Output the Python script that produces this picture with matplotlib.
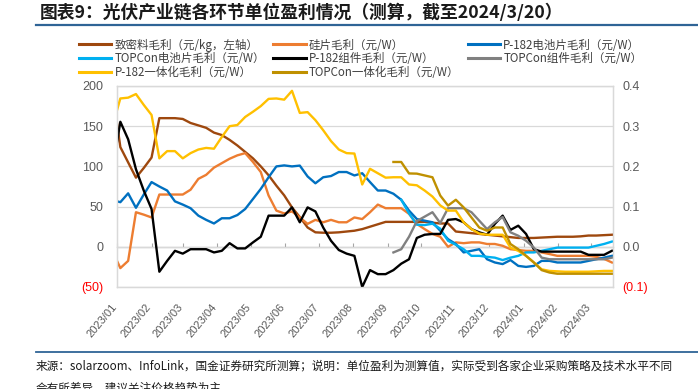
import numpy as np
import pandas as pd
import matplotlib
matplotlib.use("Agg")
import matplotlib.pyplot as plt
import matplotlib.dates as mdates
from matplotlib.lines import Line2D
from matplotlib.transforms import ScaledTranslation

plt.rcParams['font.family'] = ['Noto Sans CJK SC', 'DejaVu Sans']

# ---------------- data (weekly, Wednesdays) ----------------
dates = pd.date_range("2022-12-28", "2024-03-20", freq="7D")  # 65 points

nan = np.nan
# 致密料毛利 (元/kg, left axis)
polysilicon = [194,
    124, 105, 86, 98, 111, 160, 160, 160, 159, 154,
    151, 148, 142, 139, 133, 126, 118, 110, 100, 89,
    76, 64, 49, 37, 24, 18, 17.5, 17.5, 18, 19,
    20, 22, 25, 28, 31, 31, 31, 31, 31, 31,
    30, 29, 29, 19, 18, 17, 16, 15, 14, 13,
    12, 11, 11, 11, 11.5, 12, 12.5, 12.5, 12.5, 13,
    14, 14, 14.5, 15]
# 硅片毛利 (元/W)
wafer = [-0.011,
    -0.053, -0.035, 0.086, 0.08, 0.073, 0.13, 0.13, 0.13, 0.13, 0.142,
    0.169, 0.179, 0.197, 0.208, 0.219, 0.2275, 0.233, 0.211, 0.186, 0.1275,
    0.09, 0.083, 0.088, 0.073, 0.057, 0.067, 0.061, 0.067, 0.061, 0.061,
    0.073, 0.069, 0.086, 0.105, 0.096, 0.096, 0.096, 0.082, 0.057, 0.044,
    0.032, 0.025, 0.0, 0.011, 0.009, 0.011, 0.011, 0.007, 0.007, 0.0025,
    -0.006, -0.008, -0.01, -0.01, -0.014, -0.018, -0.0225, -0.0225, -0.0225, -0.0225,
    -0.0225, -0.025, -0.03, -0.039]
# P-182电池片毛利 (元/W)
cell_p182 = [0.116,
    0.111, 0.133, 0.097, 0.13, 0.161, 0.15, 0.14, 0.113, 0.105, 0.096,
    0.0775, 0.067, 0.058, 0.071, 0.071, 0.079, 0.094, 0.119, 0.144, 0.173,
    0.20, 0.2025, 0.20, 0.202, 0.175, 0.158, 0.173, 0.176, 0.186, 0.186,
    0.1775, 0.183, 0.161, 0.14, 0.14, 0.132, 0.117, 0.09, 0.069, 0.065,
    0.061, 0.04, 0.019, 0.007, -0.014, -0.01, -0.006, -0.031, -0.039, -0.043,
    -0.033, -0.0475, -0.05, -0.0475, -0.035, -0.035, -0.039, -0.039, -0.039, -0.039,
    -0.035, -0.031, -0.027, -0.0225]
# TOPCon电池片毛利 (元/W)
cell_topcon = [nan] * 37 + [
    0.117, 0.083, 0.055, 0.054,
    0.0575, 0.045, 0.015, 0.005, -0.006, -0.0225, -0.0225, -0.025, -0.027, -0.033,
    -0.027, -0.0225, -0.014, -0.014, -0.01, -0.006, -0.002, -0.002, -0.002, -0.002,
    -0.002, 0.0025, 0.007, 0.013]
# P-182组件毛利 (元/W)
module_p182 = [0.194,
    0.311, 0.2675, 0.193, 0.14, 0.094, -0.062, -0.035, -0.01, -0.017, -0.006,
    -0.006, -0.006, -0.014, -0.01, 0.009, -0.004, -0.004, 0.011, 0.025, 0.0775,
    0.0775, 0.0775, 0.098, 0.061, 0.098, 0.088, 0.048, 0.015, -0.008, -0.017,
    -0.0225, -0.1, -0.058, -0.068, -0.068, -0.058, -0.042, -0.031, 0.022, 0.03,
    0.032, 0.032, 0.067, 0.069, 0.061, 0.044, 0.036, 0.03, 0.057, 0.0775,
    0.042, 0.0525, 0.032, -0.006, -0.012, -0.012, -0.012, -0.012, -0.012, -0.012,
    -0.02, -0.02, -0.02, -0.01]
# TOPCon组件毛利 (元/W)
module_topcon = [nan] * 36 + [
    -0.014, -0.006, 0.025, 0.064, 0.075,
    0.086, 0.059, 0.096, 0.096, 0.096, 0.086, 0.065, 0.044, 0.061, 0.074,
    0.036, 0.0275, 0.015, -0.002, -0.027, -0.031, -0.031, -0.031, -0.031, -0.031,
    -0.031, -0.031, -0.031, -0.027]
# P-182一体化毛利 (元/W)
integ_p182 = [0.301,
    0.369, 0.371, 0.38, 0.353, 0.328, 0.22, 0.238, 0.238, 0.22, 0.233,
    0.242, 0.246, 0.244, 0.273, 0.30, 0.303, 0.323, 0.336, 0.35, 0.368,
    0.369, 0.366, 0.388, 0.333, 0.335, 0.315, 0.29, 0.263, 0.242, 0.233,
    0.232, 0.155, 0.194, 0.183, 0.172, 0.173, 0.173, 0.155, 0.153, 0.14,
    0.125, 0.103, 0.09, 0.09, 0.061, 0.044, 0.033, 0.03, 0.03, 0.03,
    -0.002, -0.01, -0.0225, -0.039, -0.056, -0.06, -0.061, -0.062, -0.062, -0.062,
    -0.062, -0.061, -0.06, -0.06]
# TOPCon一体化毛利 (元/W)
integ_topcon = [nan] * 36 + [
    0.211, 0.211, 0.1825, 0.182, 0.1775,
    0.173, 0.1275, 0.1025, 0.117, 0.098, 0.073, 0.048, 0.04, 0.048, 0.048,
    0.007, -0.006, -0.0225, -0.039, -0.058, -0.064, -0.067, -0.067, -0.067, -0.067,
    -0.067, -0.067, -0.067, -0.067]

labels = ["致密料毛利（元/kg，左轴）", "硅片毛利（元/W）", "P-182电池片毛利（元/W）",
          "TOPCon电池片毛利（元/W）", "P-182组件毛利（元/W）", "TOPCon组件毛利（元/W）",
          "P-182一体化毛利（元/W）", "TOPCon一体化毛利（元/W）"]
colors = ["#9E480E", "#ED7D31", "#0070C0", "#00B0F0", "#000000", "#808080",
          "#FFC000", "#BF9000"]

left_ticks = [-50, 0, 50, 100, 150, 200]
left_ticklabels = ["(50)", "0", "50", "100", "150", "200"]
right_ticks = [-0.1, 0.0, 0.1, 0.2, 0.3, 0.4]
right_ticklabels = ["(0.1)", "0.0", "0.1", "0.2", "0.3", "0.4"]
month_ticks = pd.date_range("2023-01-01", "2024-03-01", freq="MS")
month_labels = [d.strftime("%Y/%m") for d in month_ticks]

title = "图表9：光伏产业链各环节单位盈利情况（测算，截至2024/3/20）"
source = ("来源：solarzoom、InfoLink，国金证券研究所测算；说明：单位盈利为测算值，"
          "实际受到各家企业采购策略及技术水平不同")
source2 = "会有所差异，建议关注价格趋势为主"

# ---------------- figure ----------------
W, H = 698, 389
fig = plt.figure(figsize=(W / 100, H / 100), dpi=100)
fig.patch.set_facecolor("white")
ax = fig.add_axes([117 / W, 1 - 287 / H, (613 - 117) / W, (287 - 86) / H])
ax2 = ax.twinx()

gray_txt = "#595959"
grid_c = "#D9D9D9"

series_right = [wafer, cell_p182, cell_topcon, module_p182, module_topcon,
                integ_p182, integ_topcon]
handles = []
h0, = ax.plot(dates, polysilicon, color=colors[0], lw=1.7, zorder=3)
handles.append(h0)
for vals, c in zip(series_right, colors[1:]):
    h, = ax2.plot(dates, vals, color=c, lw=1.7)
    handles.append(h)

xmin, xmax = pd.Timestamp("2023-01-01"), pd.Timestamp("2024-03-21")
ax.set_xlim(xmin, xmax)
ax.set_ylim(-50, 200)
ax2.set_ylim(-0.1, 0.4)

ax.set_yticks(left_ticks)
ax.set_yticklabels(left_ticklabels)
ax2.set_yticks(right_ticks)
ax2.set_yticklabels(right_ticklabels)
ax.yaxis.grid(True, color=grid_c, lw=0.9)
ax.set_axisbelow(True)

ax.tick_params(axis="y", length=0, pad=10, labelsize=9, labelcolor=gray_txt)
ax2.tick_params(axis="y", length=0, pad=7, labelsize=9, labelcolor=gray_txt)
for t in ax.get_yticklabels() + ax2.get_yticklabels():
    t.set_fontfamily(["Liberation Sans", "DejaVu Sans"])
ax.get_yticklabels()[0].set_color("#FF0000")
ax2.get_yticklabels()[0].set_color("#FF0000")

ax.set_xticks(mdates.date2num(month_ticks))
ax.set_xticklabels(month_labels, rotation=50, ha="right", rotation_mode="anchor")
ax.tick_params(axis="x", length=0, pad=11, labelsize=8, labelcolor=gray_txt)
shift = ScaledTranslation(-6 / 100, 0, fig.dpi_scale_trans)
for t in ax.get_xticklabels():
    t.set_fontfamily(["Liberation Sans", "DejaVu Sans"])
    t.set_transform(t.get_transform() + shift)

for a in (ax, ax2):
    for s in a.spines.values():
        s.set_color(grid_c)
        s.set_linewidth(0.9)

# zero line with month tick marks
sec = ax.secondary_xaxis(0.2)
sec.set_xticks(mdates.date2num(month_ticks))
sec.tick_params(axis="x", direction="in", length=3, width=0.8, color="#A6A6A6",
                labelbottom=False, labeltop=False)
sec.spines["bottom"].set_color("#A6A6A6")
sec.spines["bottom"].set_linewidth(0.9)

# legend (row-major ordering in 3 columns)
order = [0, 3, 6, 1, 4, 7, 2, 5]
fig.legend([handles[i] for i in order], [labels[i] for i in order],
           ncol=3, loc="upper left", bbox_to_anchor=(79 / W, 1 - 38.5 / H),
           frameon=False, fontsize=8.3, handlelength=2.8, handletextpad=0.3,
           columnspacing=0.7, labelspacing=0.06, borderpad=0, borderaxespad=0,
           labelcolor="#404040")
for lh in fig.legends[0].get_lines():
    lh.set_linewidth(2.2)

# title and decorations
fig.text(40 / W, 1 - 13 / H, title, fontsize=12.8, fontweight="bold",
         color="#1A1A1A", ha="left", va="center")
fig.add_artist(Line2D([36 / W, 1], [1 - 24.5 / H] * 2, color="#2F6496", lw=1.6))
fig.add_artist(Line2D([36 / W, 1], [1 - 352 / H] * 2, color="#2F6496", lw=1.3))
fig.text(36 / W, 1 - 366 / H, source, fontsize=8.4, color="#1A1A1A",
         ha="left", va="center")
fig.text(36 / W, 1 - 388 / H, source2, fontsize=8.4, color="#1A1A1A",
         ha="left", va="center")

fig.savefig("out.png", dpi=100, facecolor="white")
